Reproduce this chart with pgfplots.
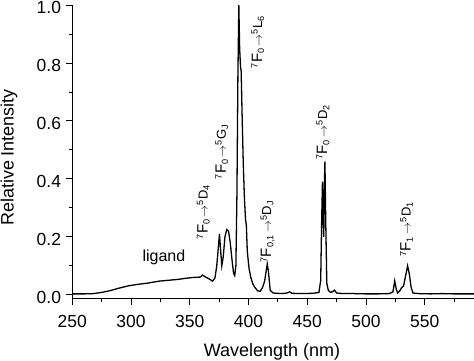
\documentclass[border=0pt]{standalone}
\usepackage{pgfplots}
\pgfplotsset{compat=1.18}
\usepackage{fontspec}
\setmainfont{Liberation Sans}
\newcommand{\tr}[4]{\textsuperscript{#1}{\fontsize{15}{15}\selectfont F}\textsubscript{#2}\,$\rightarrow$\textsuperscript{#3}#4}
\begin{document}
\begin{tikzpicture}
\begin{axis}[
  scale only axis, width=402pt, height=294pt,
  xmin=250, xmax=592, ymin=-0.014, ymax=1.0,
  axis lines*=left,
  axis line style={line width=0.9pt},
  tick align=outside,
  xtick={250,300,...,550}, minor xtick={275,325,...,575},
  ytick={0,0.2,...,1.0}, minor ytick={0.1,0.3,...,0.9},
  major tick length=6pt, minor tick length=3.5pt,
  tick style={line width=0.8pt, black},
  yticklabel style={/pgf/number format/fixed,/pgf/number format/fixed zerofill,/pgf/number format/precision=1, anchor=east, inner sep=0pt, xshift=-5pt, yshift=-2.5pt},
  xticklabel style={anchor=north, inner sep=0pt, yshift=-10pt},
  /pgf/number format/assume math mode=true,
  ticklabel style={font=\fontsize{17.5}{17.5}\selectfont},
  label style={font=\fontsize{18}{18}\selectfont, inner sep=0pt},
  xlabel={Wavelength (nm)}, ylabel={Relative Intensity},
  xlabel style={at={(axis description cs:0.497,-0.150)}, anchor=north},
  ylabel style={at={(axis description cs:-0.179,0.481)}, anchor=north},
  clip=false,
]
\addplot[black, line width=1.3pt] coordinates {
(250,0.003)(260,0.003)(268,0.004)(275,0.008)(282,0.014)(290,0.023)(298,0.031)(306,0.036)(314,0.040)(324,0.047)(332,0.050)(340,0.053)(347,0.057)(354,0.060)(359,0.061)(361,0.068)(363,0.062)(366,0.056)(369.5,0.047)(371.5,0.058)(373,0.10)(374.5,0.17)(375.3,0.21)(376.2,0.16)(377.3,0.10)(378.5,0.13)(380,0.20)(381.5,0.225)(383,0.22)(384.5,0.18)(386,0.12)(387.3,0.075)(388.3,0.066)(389.3,0.10)(390.2,0.35)(391,0.75)(391.8,1.0)(392.5,0.85)(393.2,0.79)(393.8,0.77)(394.6,0.62)(395.6,0.45)(396.6,0.33)(397.5,0.26)(398.2,0.24)(399,0.15)(400.5,0.09)(402,0.06)(403.7,0.038)(405.5,0.025)(408,0.013)(410,0.012)(412,0.025)(413.7,0.046)(415,0.08)(416,0.106)(417,0.08)(418.5,0.015)(421,0.006)(428,0.004)(433,0.006)(435,0.010)(437,0.005)(445,0.004)(455,0.005)(460,0.008)(461.5,0.05)(462.3,0.25)(463,0.39)(463.6,0.25)(464.1,0.20)(464.6,0.38)(465.1,0.46)(465.8,0.25)(466.7,0.04)(468,0.015)(470,0.008)(472,0.012)(473.3,0.016)(475,0.006)(480,0.004)(490,0.004)(500,0.003)(510,0.003)(520,0.004)(523,0.010)(524.5,0.048)(525.8,0.02)(527,0.006)(528.5,0.012)(530.5,0.025)(532,0.03)(534,0.07)(535.5,0.10)(537,0.07)(538.5,0.025)(540,0.006)(545,0.004)(555,0.003)(565,0.004)(575,0.003)(585,0.003)(592,0.003)
};
\tikzset{tlab/.style={rotate=90, anchor=west, inner sep=0pt, font=\fontsize{13}{13}\selectfont}}
\node[tlab] at (axis cs:361.6,0.19) {\tr{7}{0}{5}{D\textsubscript{4}}};
\node[tlab] at (axis cs:377.3,0.397) {\tr{7}{0}{5}{G\textsubscript{J}}};
\node[tlab] at (axis cs:408,0.78) {\tr{7}{0}{5}{L\textsubscript{6}}};
\node[tlab] at (axis cs:416.3,0.11) {\tr{7}{0,1}{5}{D\textsubscript{J}}};
\node[tlab] at (axis cs:463.4,0.465) {\tr{7}{0}{5}{D\textsubscript{2}}};
\node[tlab] at (axis cs:534.5,0.13) {\tr{7}{1}{5}{D\textsubscript{1}}};
\node[font=\fontsize{16}{16}\selectfont] at (axis cs:328,0.13) {ligand};
\end{axis}
\pgfresetboundingbox
\path ([shift={(-72.3pt,-62pt)}]current axis.south west) rectangle ([shift={(0pt,5pt)}]current axis.north east);
\end{tikzpicture}
\end{document}
